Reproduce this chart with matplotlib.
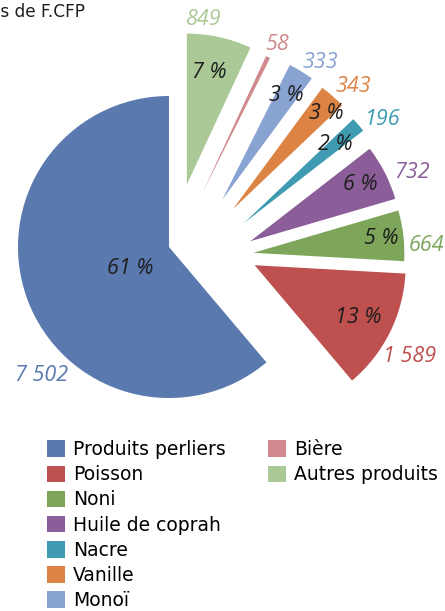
import numpy as np
import matplotlib.pyplot as plt
from matplotlib.patches import Patch

# data
labels = ['Produits perliers', 'Poisson', 'Noni', 'Huile de coprah', 'Nacre',
          'Vanille', 'Monoï', 'Bière', 'Autres produits']
values = [7502, 1589, 664, 732, 196, 343, 333, 58, 849]
unit = 'Millions de F.CFP'

colors = ['#5a79af', '#be514f', '#7ea65b', '#8b5e99', '#3e9bb2',
          '#dd8444', '#88a3d1', '#d08a8e', '#abc997']

# slice pull-out (radius units) and how much the pull is turned off the bisector (deg)
explode = [0, 0.58, 0.56, 0.54, 0.52, 0.49, 0.47, 0.42, 0.43]
tilt = [0, 14.5, -10.5, -23, -23, -18, -17, -6, -3.5]
# label distances from the slice tip
pct_r = [0.29, 0.77, 0.85, 0.82, 0.80, 0.89, 0.81, 0.0, 0.76]
val_r = [1.20, 1.19, 1.15, 1.16, 1.15, 1.14, 1.12, 1.10, 1.10]
val_turn = [25, -4, -4, -4, -4, -3, -4, -1, 7]
pct_turn = [9, 0, 0, 0, 0, -3, 0, 0, 1]

W, H = 445, 611
cx, cy, rpx = 169, 247, 151

fig = plt.figure(figsize=(W / 100, H / 100), dpi=100)
ax = fig.add_axes([0, 0, 1, 1])

wedges, _ = ax.pie(values, colors=colors, startangle=90, counterclock=True,
                   radius=1, frame=False, wedgeprops=dict(linewidth=0))

total = sum(values)
for i, w in enumerate(wedges):
    mid = np.deg2rad((w.theta1 + w.theta2) / 2)
    d = mid + np.deg2rad(tilt[i])
    c = (explode[i] * np.cos(d), explode[i] * np.sin(d))
    w.set_center(c)

    pct = round(values[i] / total * 100)
    if pct >= 1:
        a = mid + np.deg2rad(pct_turn[i])
        ax.text(c[0] + pct_r[i] * np.cos(a), c[1] + pct_r[i] * np.sin(a),
                f'{pct} %', ha='center', va='center', fontsize=15.5,
                style='italic', family='Open Sans', color='#1e1e1e')
    a = mid + np.deg2rad(val_turn[i])
    ax.text(c[0] + val_r[i] * np.cos(a), c[1] + val_r[i] * np.sin(a),
            f'{values[i]:,}'.replace(',', ' '), ha='center', va='center',
            fontsize=15.5, style='italic', family='Open Sans', color=colors[i])

ax.set_xlim(-cx / rpx, (W - cx) / rpx)
ax.set_ylim(-(H - cy) / rpx, cy / rpx)
ax.axis('off')

fig.text(85 / W, 1 - 12 / H, unit, ha='right', va='center', fontsize=12.2,
         family='DejaVu Sans', color='#1e1e1e')

handles = [Patch(facecolor=c, edgecolor='none') for c in colors]
leg_kw = dict(loc='upper left', frameon=False, borderpad=0, borderaxespad=0,
              handlelength=0.97, handleheight=0.97, handletextpad=0.4,
              labelspacing=0.33, prop=dict(family='DejaVu Sans', size=13.5))
fig.legend(handles[:7], labels[:7], bbox_to_anchor=(47 / W, 1 - 440 / H), **leg_kw)
fig.legend(handles[7:], labels[7:], bbox_to_anchor=(268 / W, 1 - 440 / H), **leg_kw)

plt.savefig('out.png', dpi=100)
